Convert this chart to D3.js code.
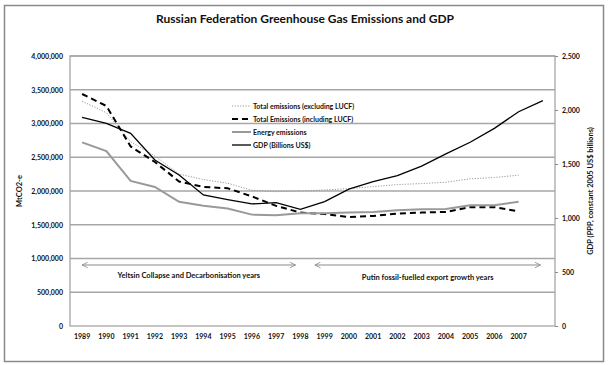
<!DOCTYPE html>
<html lang="en">
<head>
<meta charset="UTF-8">
<title>Russian Federation Greenhouse Gas Emissions and GDP</title>
<script src="https://d3js.org/d3.v7.min.js"></script>
<style>
  body { margin: 0; background: #fff; }
  svg text { font-family: Lato, "Open Sans", sans-serif; font-weight: bold; fill: #111; }
</style>
</head>
<body>
<svg width="609" height="365" id="chart"></svg>
<script>
// chart data
const years = [1989, 1990, 1991, 1992, 1993, 1994, 1995, 1996, 1997, 1998,
               1999, 2000, 2001, 2002, 2003, 2004, 2005, 2006, 2007, 2008];
const yearLabels = ["1989", "1990", "1991", "1992", "1993", "1994", "1995", "1996", "1997", "1998",
                    "1999", "2000", "2001", "2002", "2003", "2004", "2005", "2006", "2007", ""];
const totalExclLucf = [3330000, 3160000, 2730000, 2520000, 2250000, 2170000, 2115000, 2010000, 1990000, 2000000,
                       2015000, 2035000, 2065000, 2095000, 2110000, 2130000, 2180000, 2200000, 2235000, null];
const totalInclLucf = [3437000, 3260000, 2660000, 2430000, 2140000, 2060000, 2040000, 1920000, 1780000, 1680000,
                       1660000, 1615000, 1630000, 1665000, 1680000, 1690000, 1760000, 1760000, 1700000, null];
const energyEmissions = [2720000, 2590000, 2150000, 2060000, 1840000, 1780000, 1740000, 1650000, 1640000, 1670000,
                         1670000, 1680000, 1690000, 1715000, 1730000, 1735000, 1790000, 1790000, 1840000, null];
const gdp = [1932, 1877, 1784, 1537, 1398, 1213, 1170, 1130, 1142, 1080,
             1151, 1268, 1336, 1392, 1481, 1593, 1701, 1830, 1984, 2086];
const leftTicks = [0, 500000, 1000000, 1500000, 2000000, 2500000, 3000000, 3500000, 4000000];
const rightTicks = [0, 500, 1000, 1500, 2000, 2500];
const periods = [
  { from: 1989, to: 1997.8, label: "Yeltsin Collapse and Decarbonisation years", dy: 10 },
  { from: 1998.6, to: 2007.9, label: "Putin fossil-fuelled export growth years", dy: 12 }
];

const svg = d3.select("#chart");
const plot = { left: 70, right: 555, top: 56, bottom: 326 };

// outer border
svg.append("rect")
  .attr("x", 4.5).attr("y", 5.5).attr("width", 599).attr("height", 356)
  .attr("fill", "none").attr("stroke", "#8a8a8a").attr("stroke-width", 1.5);

svg.append("text")
  .attr("x", 305).attr("y", 23).attr("text-anchor", "middle")
  .style("font-size", "12px")
  .text("Russian Federation Greenhouse Gas Emissions and GDP");

const x = d3.scaleBand().domain(years).range([plot.left, plot.right]);
const xc = d => x(d) + x.bandwidth() / 2;
const yL = d3.scaleLinear().domain([0, 4000000]).range([plot.bottom, plot.top]);
const yR = d3.scaleLinear().domain([0, 2500]).range([plot.bottom, plot.top]);

// gridlines
svg.append("g").selectAll("line")
  .data(leftTicks.slice(1))
  .join("line")
  .attr("x1", plot.left).attr("x2", plot.right)
  .attr("y1", d => yL(d)).attr("y2", d => yL(d))
  .attr("stroke", "#a6a6a6").attr("stroke-width", 1.3);

// plot frame
svg.append("rect")
  .attr("x", plot.left).attr("y", plot.top)
  .attr("width", plot.right - plot.left).attr("height", plot.bottom - plot.top)
  .attr("fill", "none").attr("stroke", "#a6a6a6").attr("stroke-width", 1.3);

// left axis
const leftAxis = svg.append("g")
  .attr("transform", `translate(${plot.left},0)`)
  .call(d3.axisLeft(yL).tickValues(leftTicks).tickSize(0).tickPadding(7)
    .tickFormat(d3.format(",")));
leftAxis.select(".domain").remove();
leftAxis.selectAll("text").style("font-size", "7px");

// right axis
const rightAxis = svg.append("g")
  .attr("transform", `translate(${plot.right},0)`)
  .call(d3.axisRight(yR).tickValues(rightTicks).tickSize(3).tickPadding(4)
    .tickFormat(d3.format(",")));
rightAxis.select(".domain").remove();
rightAxis.selectAll("line").attr("stroke", "#8a8a8a");
rightAxis.selectAll("text").style("font-size", "7px");

// x axis labels
const xAxis = svg.append("g")
  .attr("transform", `translate(0,${plot.bottom})`)
  .call(d3.axisBottom(x).tickSize(0).tickPadding(8)
    .tickFormat((d, i) => yearLabels[i]));
xAxis.select(".domain").remove();
xAxis.selectAll("text").style("font-size", "7px");

// axis titles
svg.append("text")
  .attr("transform", "translate(22,191) rotate(-90)")
  .attr("text-anchor", "middle").style("font-size", "7.5px")
  .text("MtCO2-e");
svg.append("text")
  .attr("transform", "translate(593,191) rotate(-90)")
  .attr("text-anchor", "middle").style("font-size", "7.5px")
  .text("GDP (PPP, constant 2005  US$ billions)");

// period arrows
const defs = svg.append("defs");
defs.append("marker")
  .attr("id", "arrow").attr("viewBox", "0 0 10 10")
  .attr("refX", 9).attr("refY", 5)
  .attr("markerWidth", 7).attr("markerHeight", 7)
  .attr("markerUnits", "userSpaceOnUse")
  .attr("orient", "auto-start-reverse")
  .append("path")
  .attr("d", "M1,1 L9,5 L1,9")
  .attr("fill", "none").attr("stroke", "#8a8a8a").attr("stroke-width", 1.2);

const xYear = yr => xc(Math.floor(yr)) + (yr - Math.floor(yr)) * x.step();
periods.forEach(p => {
  svg.append("line")
    .attr("x1", xYear(p.from)).attr("x2", xYear(p.to))
    .attr("y1", 265).attr("y2", 265)
    .attr("stroke", "#8a8a8a").attr("stroke-width", 1)
    .attr("marker-start", "url(#arrow)").attr("marker-end", "url(#arrow)");
  svg.append("text")
    .attr("x", (xYear(p.from) + xYear(p.to)) / 2).attr("y", 265 + p.dy + 3)
    .attr("text-anchor", "middle").style("font-size", "7.5px")
    .text(p.label);
});

// series
const series = [
  { name: "Total emissions (excluding LUCF)", values: totalExclLucf, y: yL,
    stroke: "#9a9a9a", width: 1, dash: "1.2,1.5" },
  { name: "Total Emissions (including LUCF)", values: totalInclLucf, y: yL,
    stroke: "#000", width: 2, dash: "6,4" },
  { name: "Energy emissions", values: energyEmissions, y: yL,
    stroke: "#999", width: 2, dash: null },
  { name: "GDP (Billions US$)", values: gdp, y: yR,
    stroke: "#000", width: 1.3, dash: null }
];

series.forEach(s => {
  const line = d3.line()
    .defined(d => d != null)
    .x((d, i) => xc(years[i]))
    .y(d => s.y(d));
  svg.append("path")
    .datum(s.values)
    .attr("d", line)
    .attr("fill", "none")
    .attr("stroke", s.stroke)
    .attr("stroke-width", s.width)
    .attr("stroke-dasharray", s.dash);
});

// legend
const legend = svg.append("g").attr("transform", "translate(232,106)");
series.forEach((s, i) => {
  const g = legend.append("g").attr("transform", `translate(0,${i * 13})`);
  g.append("line")
    .attr("x1", 0).attr("x2", 19).attr("y1", 0).attr("y2", 0)
    .attr("stroke", s.stroke).attr("stroke-width", s.width)
    .attr("stroke-dasharray", s.dash);
  g.append("text")
    .attr("x", 21).attr("y", 2.5)
    .style("font-size", "7px")
    .text(s.name);
});
</script>
</body>
</html>
